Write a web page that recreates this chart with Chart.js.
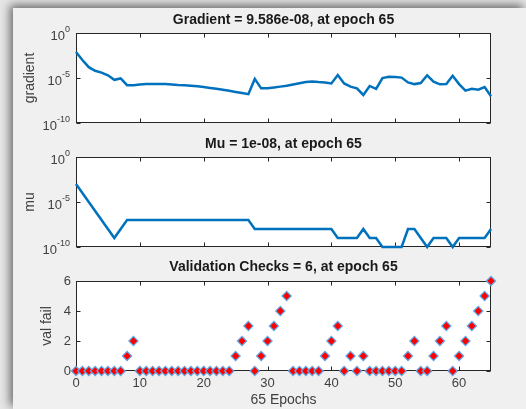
<!DOCTYPE html>
<html>
<head>
<meta charset="utf-8">
<script src="https://cdn.jsdelivr.net/npm/chart.js@4.4.0/dist/chart.umd.min.js"></script>
<style>
  html, body { margin: 0; padding: 0; }
  body { width: 526px; height: 409px; background: #e6e6e6; overflow: hidden; position: relative; }
  #panel { position: absolute; left: 13px; top: 8px; right: 0; bottom: 0; background: #f0f0f0;
           box-shadow: -3px -3px 9px rgba(0, 0, 0, 0.55); }
  canvas { position: absolute; left: 0; }
</style>
</head>
<body>
<div id="panel"></div>
<canvas id="gradChart" width="526" height="130" style="top:0px"></canvas>
<canvas id="muChart" width="526" height="125" style="top:130px"></canvas>
<canvas id="valChart" width="526" height="159" style="top:250px"></canvas>

<script>
/* ==========================================================================
   DATA
   ========================================================================== */
const epochs = [0, 1, 2, 3, 4, 5, 6, 7, 8, 9, 10, 11, 12, 13, 14, 15, 16, 17, 18, 19,
    20, 21, 22, 23, 24, 25, 26, 27, 28, 29, 30, 31, 32, 33, 34, 35, 36, 37, 38, 39,
    40, 41, 42, 43, 44, 45, 46, 47, 48, 49, 50, 51, 52, 53, 54, 55, 56, 57, 58, 59,
    60, 61, 62, 63, 64, 65];

const gradientValues = [7.9e-3, 1.0e-3, 1.6e-4, 6.3e-5, 4.0e-5, 2.0e-5, 6.3e-6, 8.9e-6, 1.6e-6, 1.6e-6,
    1.9e-6, 2.1e-6, 2.2e-6, 2.2e-6, 2.1e-6, 1.9e-6, 1.7e-6, 1.6e-6, 1.4e-6, 1.2e-6,
    1.0e-6, 7.9e-7, 6.3e-7, 5.0e-7, 3.8e-7, 2.8e-7, 2.1e-7, 1.6e-7, 7.9e-6, 7.1e-7,
    7.1e-7, 8.9e-7, 1.1e-6, 1.4e-6, 1.9e-6, 2.6e-6, 3.5e-6, 4.0e-6, 3.5e-6, 3.2e-6,
    2.5e-6, 2.1e-5, 2.5e-6, 1.1e-6, 7.1e-7, 1.3e-7, 1.3e-6, 6.3e-7, 1.0e-5, 1.4e-5,
    1.3e-5, 1.1e-5, 3.2e-6, 2.1e-6, 2.8e-6, 2.0e-5, 4.0e-6, 2.0e-6, 2.1e-6, 1.8e-5,
    2.1e-6, 4.0e-7, 6.3e-7, 5.0e-7, 1.0e-6, 9.586e-8];

const muValues = [1e-3, 1e-4, 1e-5, 1e-6, 1e-7, 1e-8, 1e-9, 1e-8, 1e-7, 1e-7,
    1e-7, 1e-7, 1e-7, 1e-7, 1e-7, 1e-7, 1e-7, 1e-7, 1e-7, 1e-7,
    1e-7, 1e-7, 1e-7, 1e-7, 1e-7, 1e-7, 1e-7, 1e-7, 1e-8, 1e-8,
    1e-8, 1e-8, 1e-8, 1e-8, 1e-8, 1e-8, 1e-8, 1e-8, 1e-8, 1e-8,
    1e-8, 1e-9, 1e-9, 1e-9, 1e-9, 1e-8, 1e-9, 1e-9, 1e-10, 1e-10,
    1e-10, 1e-10, 1e-8, 1e-8, 1e-9, 1e-10, 1e-9, 1e-9, 1e-9, 1e-10,
    1e-9, 1e-9, 1e-9, 1e-9, 1e-9, 1e-8];

const valFailValues = [0, 0, 0, 0, 0, 0, 0, 0, 1, 2,
    0, 0, 0, 0, 0, 0, 0, 0, 0, 0,
    0, 0, 0, 0, 0, 1, 2, 3, 0, 1,
    2, 3, 4, 5, 0, 0, 0, 0, 0, 1,
    2, 3, 0, 1, 0, 1, 0, 0, 0, 0,
    0, 0, 1, 2, 0, 0, 1, 2, 3, 0,
    1, 2, 3, 4, 5, 6];

const xTicks = [0, 10, 20, 30, 40, 50, 60];
const logTickValues = [1, 1e-5, 1e-10];
const logTickExponents = ['0', '-5', '-10'];
const valTicks = [0, 2, 4, 6];

const titles = ['Gradient = 9.586e-08, at epoch 65', 'Mu = 1e-08, at epoch 65', 'Validation Checks = 6, at epoch 65'];
const yLabels = ['gradient', 'mu', 'val fail'];
const xLabel = '65 Epochs';

/* ==========================================================================
   STYLE CONSTANTS
   ========================================================================== */
const FONT = '"Liberation Sans", Arial, Helvetica, sans-serif';
const AXIS_COLOR = '#262626';
const LABEL_COLOR = '#404040';
const LINE_BLUE = '#0072BD';

/* ==========================================================================
   MATLAB-STYLE AXES PLUGIN (white box, inward ticks, 10^n labels)
   ========================================================================== */
const matlabAxes = {
    id: 'matlabAxes',
    beforeDraw(chart) {
        const { ctx, chartArea: a } = chart;
        ctx.save();
        ctx.fillStyle = '#ffffff';
        ctx.fillRect(a.left, a.top, a.width, a.height);
        ctx.restore();
    },
    beforeDatasetsDraw(chart, args, opts) {
        const { ctx, chartArea: a, scales: { x, y } } = chart;
        const L = Math.round(a.left) + 0.5, R = Math.round(a.right) - 0.5;
        const T = Math.round(a.top) + 0.5, B = Math.round(a.bottom) - 0.5;
        ctx.save();
        ctx.strokeStyle = AXIS_COLOR;
        ctx.lineWidth = 1;
        ctx.strokeRect(L, T, R - L, B - T);

        const len = 4;
        ctx.beginPath();
        opts.xTicks.forEach(v => {
            const px = Math.round(x.getPixelForValue(v)) + 0.5;
            ctx.moveTo(px, B); ctx.lineTo(px, B - len);
            ctx.moveTo(px, T); ctx.lineTo(px, T + len);
        });
        opts.yTicks.forEach(v => {
            const py = Math.round(y.getPixelForValue(v)) + 0.5;
            ctx.moveTo(L, py); ctx.lineTo(L + len, py);
            ctx.moveTo(R, py); ctx.lineTo(R - len, py);
        });
        ctx.stroke();

        // power-of-ten labels for the log axes
        if (opts.exponents) {
            ctx.fillStyle = LABEL_COLOR;
            ctx.textAlign = 'right';
            ctx.textBaseline = 'middle';
            opts.yTicks.forEach((v, i) => {
                const py = y.getPixelForValue(v);
                ctx.font = '9px ' + FONT;
                const expW = ctx.measureText(opts.exponents[i]).width;
                ctx.fillText(opts.exponents[i], 70, py - 3);
                ctx.font = '13px ' + FONT;
                ctx.fillText('10', 70 - expW, py + 3.5);
            });
        }
        ctx.restore();
    }
};

/* ==========================================================================
   CHART BUILDERS
   ========================================================================== */
function toPoints(values) {
    return epochs.map((e, i) => ({ x: e, y: values[i] }));
}

// fullSize: false keeps the title centred over the plot box, like MATLAB
function titleOptions(text, padTop, padBottom) {
    return {
        display: true,
        fullSize: false,
        text: text,
        color: '#1a1a1a',
        font: { family: FONT, size: 14, weight: 'bold' },
        padding: { top: padTop, bottom: padBottom }
    };
}

function yTitle(text, padTop) {
    return {
        display: true,
        text: text,
        color: LABEL_COLOR,
        font: { family: FONT, size: 14 },
        padding: { top: padTop, bottom: 0 }
    };
}

function buildLogChart(canvasId, values, title, yLabel, xHeight, padTop, padBottom) {
    return new Chart(document.getElementById(canvasId), {
        type: 'line',
        data: {
            datasets: [{
                data: toPoints(values),
                borderColor: LINE_BLUE,
                borderWidth: 2.5,
                pointRadius: 0,
                tension: 0,
                clip: false
            }]
        },
        options: {
            responsive: false,
            animation: false,
            layout: { padding: { left: 0, right: 35, top: 0, bottom: 0 } },
            plugins: {
                legend: { display: false },
                tooltip: { enabled: false },
                title: titleOptions(title, padTop, padBottom),
                matlabAxes: { xTicks: xTicks, yTicks: logTickValues, exponents: logTickExponents }
            },
            scales: {
                x: {
                    type: 'linear', min: 0, max: 65,
                    grid: { display: false }, border: { display: false },
                    ticks: { display: false },
                    afterBuildTicks: s => { s.ticks = xTicks.map(v => ({ value: v })); },
                    afterFit: s => { s.height = xHeight; }
                },
                y: {
                    type: 'logarithmic', min: 1e-10, max: 1,
                    grid: { display: false }, border: { display: false },
                    ticks: { display: false },
                    title: yTitle(yLabel, 21.6),
                    afterFit: s => { s.width = 76; }
                }
            }
        },
        plugins: [matlabAxes]
    });
}

function buildValChart() {
    return new Chart(document.getElementById('valChart'), {
        type: 'scatter',
        data: {
            datasets: [{
                data: toPoints(valFailValues),
                showLine: false,
                pointStyle: 'rectRot',
                pointRadius: 4.6,
                backgroundColor: '#ff0000',
                borderColor: '#5fa8e8',
                borderWidth: 1.2,
                clip: false
            }]
        },
        options: {
            responsive: false,
            animation: false,
            layout: { padding: { left: 0, right: 35, top: 0, bottom: 0 } },
            plugins: {
                legend: { display: false },
                tooltip: { enabled: false },
                title: titleOptions(titles[2], 8.6, 5.6),
                matlabAxes: { xTicks: xTicks, yTicks: valTicks }
            },
            scales: {
                x: {
                    type: 'linear', min: 0, max: 65,
                    grid: { display: false, drawTicks: false }, border: { display: false },
                    ticks: { color: LABEL_COLOR, font: { family: FONT, size: 13 }, padding: 5, maxRotation: 0 },
                    afterBuildTicks: s => { s.ticks = xTicks.map(v => ({ value: v })); },
                    title: {
                        display: true, text: xLabel, color: LABEL_COLOR,
                        font: { family: FONT, size: 14 }, padding: { top: 0, bottom: 0.6 }
                    },
                    afterFit: s => { s.height = 38; }
                },
                y: {
                    type: 'linear', min: 0, max: 6,
                    grid: { display: false, drawTicks: false }, border: { display: false },
                    ticks: { color: LABEL_COLOR, font: { family: FONT, size: 13 }, padding: 5 },
                    afterBuildTicks: s => { s.ticks = valTicks.map(v => ({ value: v })); },
                    title: yTitle(yLabels[2], 38.6),
                    afterFit: s => { s.width = 76; }
                }
            }
        },
        plugins: [matlabAxes]
    });
}

/* ==========================================================================
   RENDER
   ========================================================================== */
buildLogChart('gradChart', gradientValues, titles[0], yLabels[0], 7, 11.6, 4.6);
buildLogChart('muChart', muValues, titles[1], yLabels[1], 8, 5.6, 4.6);
buildValChart();
</script>
</body>
</html>
